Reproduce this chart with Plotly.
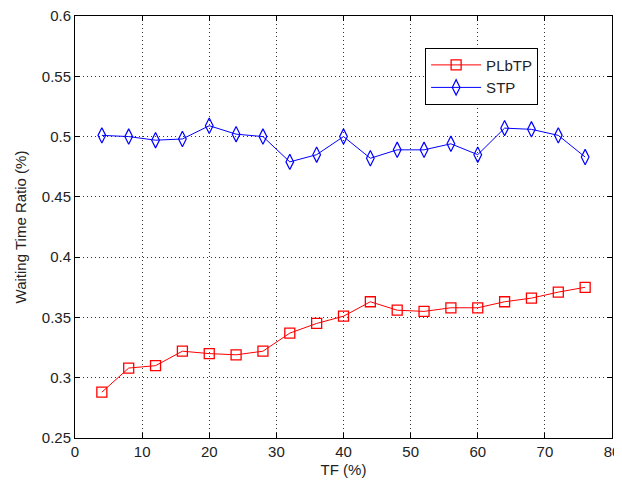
import plotly.graph_objects as go

tf = [4, 8, 12, 16, 20, 24, 28, 32, 36, 40, 44, 48, 52, 56, 60, 64, 68, 72, 76]
plbtp = [0.288, 0.308, 0.310, 0.322, 0.320, 0.319, 0.322, 0.337, 0.345, 0.351,
         0.363, 0.356, 0.355, 0.358, 0.358, 0.363, 0.366, 0.371, 0.375]
stp = [0.501, 0.500, 0.497, 0.498, 0.509, 0.502, 0.500, 0.479, 0.485, 0.500,
       0.482, 0.489, 0.489, 0.494, 0.485, 0.507, 0.506, 0.501, 0.483]

x_ticks = [0, 10, 20, 30, 40, 50, 60, 70, 80]
y_ticks = [0.25, 0.3, 0.35, 0.4, 0.45, 0.5, 0.55, 0.6]
y_labels = ["0.25", "0.3", "0.35", "0.4", "0.45", "0.5", "0.55", "0.6"]

FONT = "Liberation Sans, Arial, sans-serif"

fig = go.Figure()
fig.add_trace(go.Scatter(
    x=tf, y=plbtp, name="PLbTP", mode="lines+markers",
    line=dict(color="#ff0000", width=1),
    marker=dict(symbol="square-open", size=10, color="#ff0000", line=dict(width=1.3)),
))
fig.add_trace(go.Scatter(
    x=tf, y=stp, name="STP", mode="lines+markers",
    line=dict(color="#0000ff", width=1),
    marker=dict(symbol="diamond-tall-open", size=11, color="#0000ff", line=dict(width=1.2)),
))

axis_common = dict(
    showline=True, linecolor="black", linewidth=1, mirror="ticks",
    ticks="inside", ticklen=5, tickcolor="black",
    showgrid=True, gridcolor="#333333", griddash="1px,3px", gridwidth=1,
    zeroline=False, automargin=False, ticklabeloverflow="allow",
    tickfont=dict(family=FONT, size=15, color="#222222"),
)

fig.update_xaxes(range=[0, 80], tickvals=x_ticks,
                 title=dict(text="TF (%)", font=dict(family=FONT, size=15, color="#222222"), standoff=5),
                 **axis_common)
fig.update_yaxes(range=[0.25, 0.6], tickvals=y_ticks, ticktext=y_labels,
                 title=dict(text="Waiting Time Ratio (%)", font=dict(family=FONT, size=15, color="#222222"), standoff=11),
                 **axis_common)

# page body has an 8px default margin; size the figure to compensate
fig.update_layout(
    width=614, height=476,
    margin=dict(l=67, r=10, t=8, b=46),
    paper_bgcolor="white", plot_bgcolor="white",
    showlegend=True,
    legend=dict(x=0.652, y=0.925, xanchor="left", yanchor="top",
                bordercolor="black", borderwidth=1, bgcolor="white",
                font=dict(family=FONT, size=15, color="#222222"),
                itemwidth=50, tracegroupgap=2),
)

fig.write_html("out.html")
